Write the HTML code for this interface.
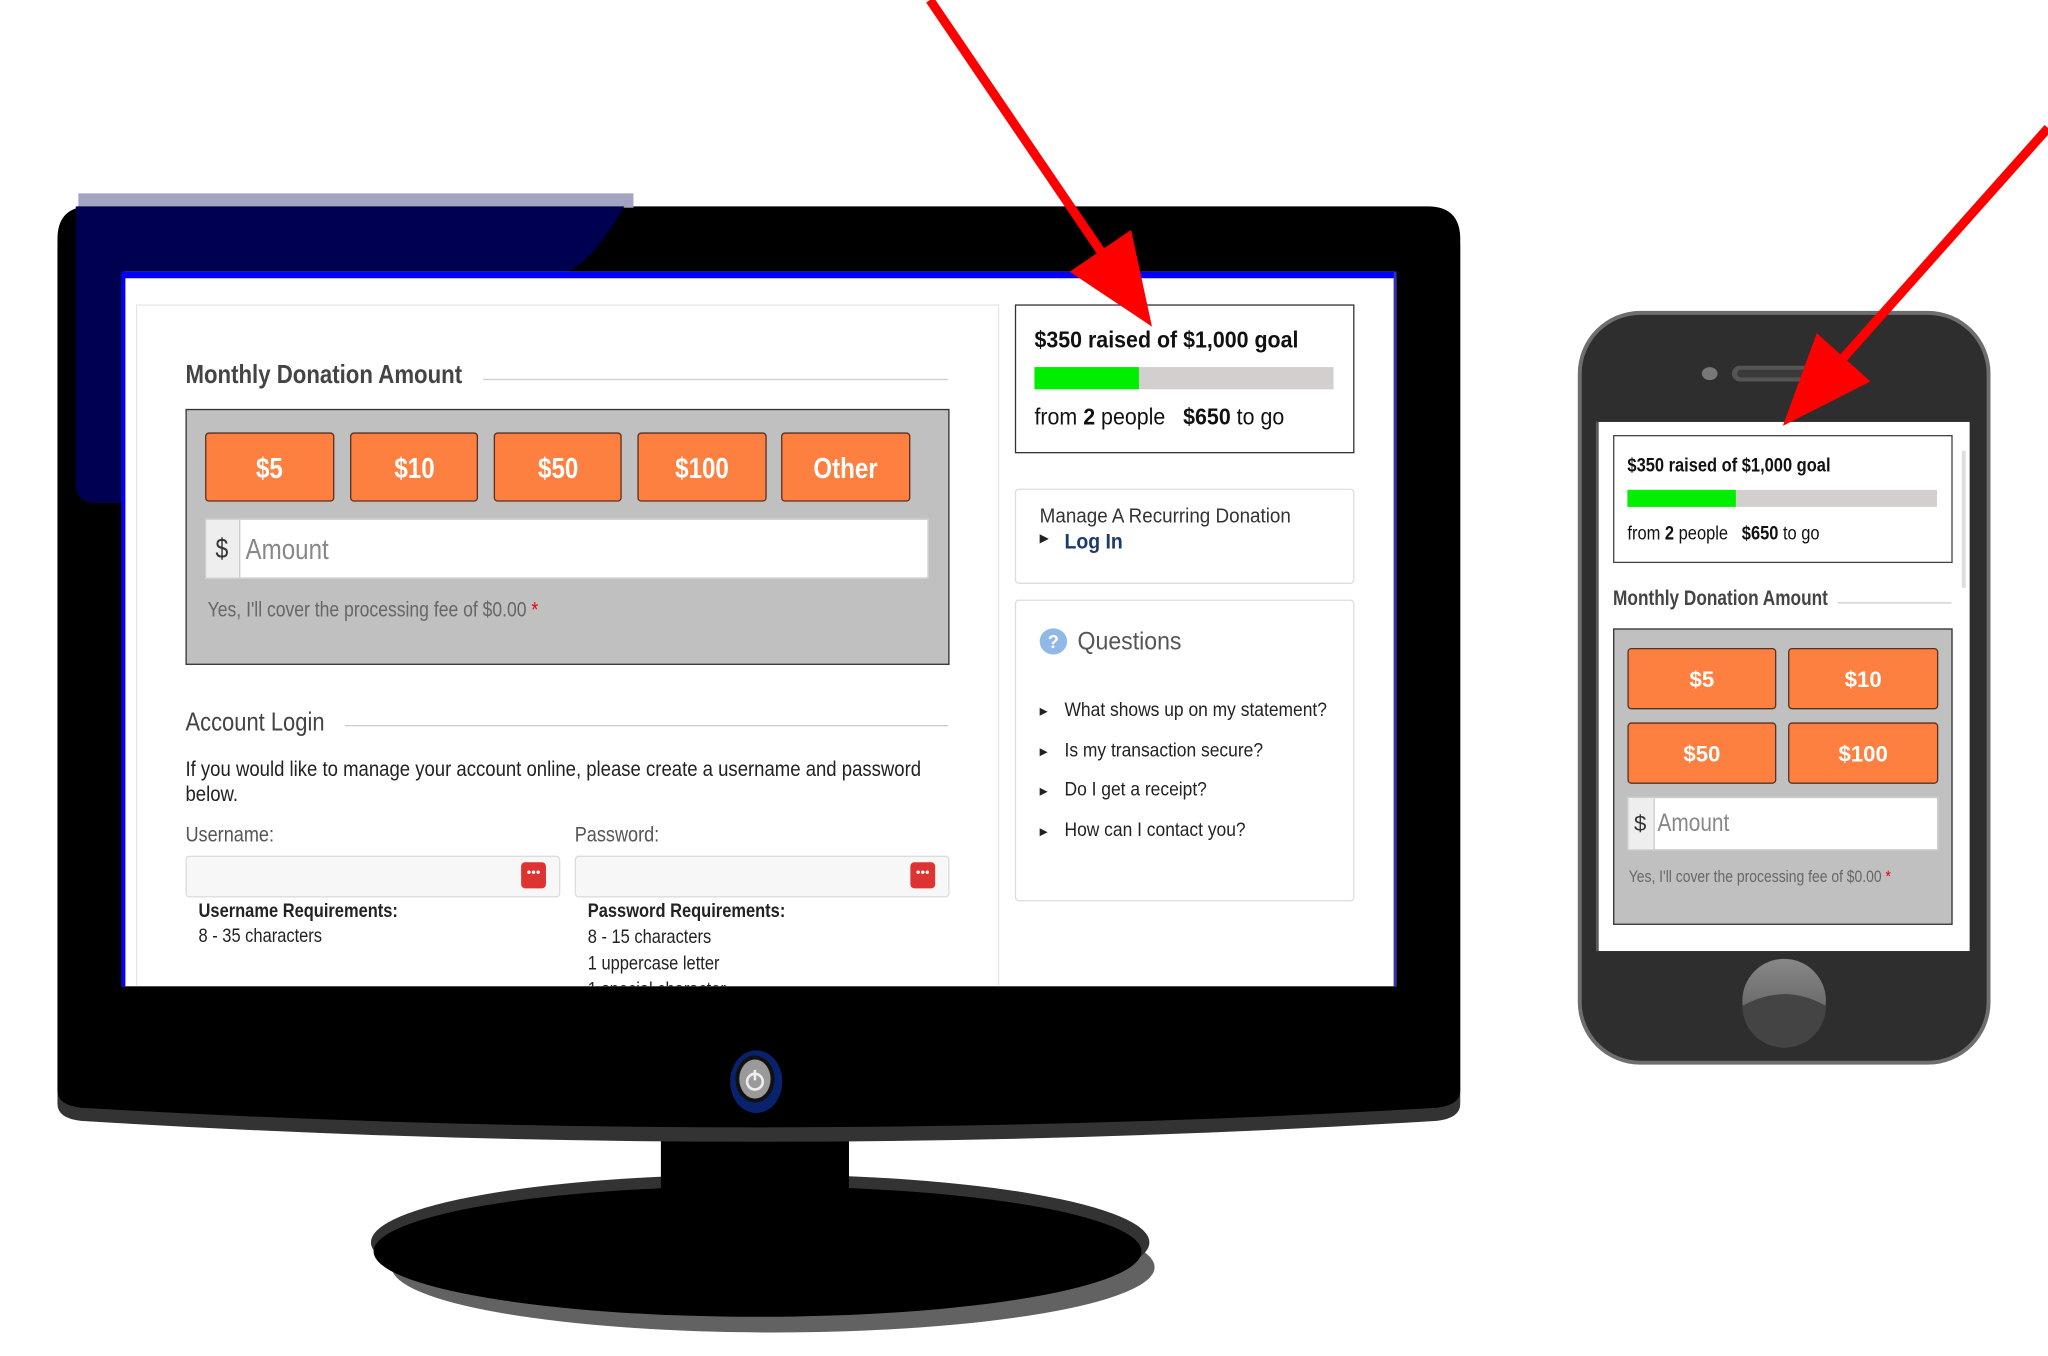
<!DOCTYPE html>
<html><head><meta charset="utf-8"><style>
html,body{margin:0;padding:0;background:#fff;overflow:hidden;width:2048px;height:1356px}
#w{position:absolute;left:0;top:0;width:1568px;height:1038px;transform:scale(1.30612,1.30636);transform-origin:0 0;font-family:"Liberation Sans",sans-serif}
.a{position:absolute;white-space:nowrap}
.c{display:inline-block;transform:scaleX(.84);transform-origin:0 0}
.btn{position:absolute;background:#fe8040;border:1px solid #5a3020;border-radius:3px;color:#fff;font-weight:bold;text-align:center;box-sizing:border-box}
</style></head><body><div id="w">
<svg width="1568" height="1038" style="position:absolute;left:0;top:0">
<ellipse cx="592" cy="970" rx="292" ry="50" fill="#626262"/>
<ellipse cx="582" cy="951" rx="298" ry="52" fill="#333"/>
<ellipse cx="580" cy="958" rx="294" ry="50" fill="#000"/>
<rect x="506" y="860" width="144" height="100" fill="#000"/>
<path d="M44,190 Q44,163 70,163 L1093,163 Q1118,163 1118,190 L1118,845 Q1118,856 1100,858 Q580,890 62,858 Q44,856 44,845 Z" fill="#333"/>
<path d="M44,183 Q44,158 69,158 L1093,158 Q1118,158 1118,183 L1118,835 Q1118,846 1100,848 Q580,878 62,848 Q44,846 44,835 Z" fill="#000"/>
<rect x="60" y="148" width="425" height="11" fill="#a3a3c2"/>
<path d="M58,158 L478,158 Q455,198 435,208 L93,208 L93,385 L72,385 Q58,385 58,370 Z" fill="#000050"/>
<ellipse cx="579" cy="828" rx="20" ry="24" fill="#0a2a8a" opacity=".8"/>
<ellipse cx="578" cy="826" rx="15" ry="18" fill="#111"/>
<ellipse cx="578" cy="826" rx="12" ry="15" fill="#9a9a9a"/>
<circle cx="578" cy="828" r="6" fill="none" stroke="#eee" stroke-width="2"/>
<line x1="578" y1="819" x2="578" y2="827" stroke="#eee" stroke-width="2"/>
<rect x="93" y="208" width="976" height="547" fill="#fff"/>
<rect x="93" y="208" width="976" height="5" fill="#0000ff"/>
<rect x="93" y="208" width="3" height="547" fill="#0000ff"/>
<rect x="1067" y="208" width="2" height="547" fill="#3030c0"/>
<rect x="1208" y="238" width="316" height="577" rx="48" fill="#6e6e6e"/>
<rect x="1211" y="241" width="310" height="571" rx="45" fill="#2e2e2e"/>
<ellipse cx="1309" cy="286" rx="6" ry="5" fill="#777"/>
<rect x="1326" y="280" width="94" height="12" rx="6" fill="#555"/>
<rect x="1330" y="283" width="86" height="6" rx="3" fill="#3a3a3a"/>
<rect x="1222" y="323" width="286" height="405" fill="#fff"/>
<rect x="1222" y="323" width="2" height="405" fill="#555"/>
<rect x="1502" y="345" width="3" height="105" fill="#ddd"/>
<defs><linearGradient id="hb" x1="0" y1="0" x2="0" y2="1"><stop offset="0" stop-color="#888"/><stop offset="1" stop-color="#555"/></linearGradient></defs>
<circle cx="1366" cy="766" r="32" fill="url(#hb)"/>
<path d="M1334,770 Q1366,752 1398,770 A32,32 0 0 1 1334,770 Z" fill="#444"/>
</svg>

<div class="a" style="left:104px;top:233px;width:661px;height:530px;border:1px solid #e4e4e4;border-bottom:none;box-sizing:border-box;clip-path:inset(0 0 8px 0)"></div>
<div class="a" style="left:142px;top:276px;font-size:20px;font-weight:bold;color:#444"><span class="c" style="transform:scaleX(.85)">Monthly Donation Amount</span></div>
<div class="a" style="left:370px;top:290px;width:356px;height:1px;background:#ccc"></div>
<div class="a" style="left:142px;top:313px;width:585px;height:196px;background:#c0c0c0;border:1px solid #333;box-sizing:border-box"></div>
<div class="btn" style="left:157px;top:331px;width:99px;height:53px;line-height:53px;font-size:22px"><span class="c" style="transform-origin:50% 0">$5</span></div>
<div class="btn" style="left:268px;top:331px;width:98px;height:53px;line-height:53px;font-size:22px"><span class="c" style="transform-origin:50% 0">$10</span></div>
<div class="btn" style="left:378px;top:331px;width:98px;height:53px;line-height:53px;font-size:22px"><span class="c" style="transform-origin:50% 0">$50</span></div>
<div class="btn" style="left:488px;top:331px;width:99px;height:53px;line-height:53px;font-size:22px"><span class="c" style="transform-origin:50% 0">$100</span></div>
<div class="btn" style="left:598px;top:331px;width:99px;height:53px;line-height:53px;font-size:22px"><span class="c" style="transform-origin:50% 0">Other</span></div>
<div class="a" style="left:157px;top:397px;width:554px;height:46px;background:#fff;border:1px solid #ccc;box-sizing:border-box"></div>
<div class="a" style="left:158px;top:398px;width:25px;height:44px;background:#eee;border-right:1px solid #ccc"></div>
<div class="a" style="left:165px;top:409px;font-size:21px;color:#333"><span class="c">$</span></div>
<div class="a" style="left:188px;top:408px;font-size:22px;color:#888"><span class="c">Amount</span></div>
<div class="a" style="left:159px;top:459px;font-size:16px;color:#666"><span class="c">Yes, I'll cover the processing fee of $0.00 <span style="color:#e00">*</span></span></div>
<div class="a" style="left:142px;top:542px;font-size:20px;color:#444"><span class="c">Account Login</span></div>
<div class="a" style="left:264px;top:555px;width:462px;height:1px;background:#ccc"></div>
<div class="a" style="left:142px;top:580px;font-size:16.5px;color:#222;line-height:19px"><span class="c" style="transform:scaleX(.86)">If you would like to manage your account online, please create a username and password<br>below.</span></div>
<div class="a" style="left:142px;top:630px;font-size:16.5px;color:#555"><span class="c">Username:</span></div>
<div class="a" style="left:440px;top:630px;font-size:16.5px;color:#555"><span class="c">Password:</span></div>
<div class="a" style="left:142px;top:655px;width:287px;height:32px;background:#f7f7f7;border:1px solid #ddd;border-radius:3px;box-sizing:border-box"></div>
<div class="a" style="left:440px;top:655px;width:287px;height:32px;background:#f7f7f7;border:1px solid #ddd;border-radius:3px;box-sizing:border-box"></div>
<div class="a" style="left:399px;top:660px;width:19px;height:20px;background:#d33;border-radius:3px;color:#fff;font-size:10px;line-height:17px;text-align:center">•••</div>
<div class="a" style="left:697px;top:660px;width:19px;height:20px;background:#d33;border-radius:3px;color:#fff;font-size:10px;line-height:17px;text-align:center">•••</div>
<div class="a" style="left:152px;top:689px;font-size:15px;font-weight:bold;color:#222"><span class="c">Username Requirements:</span></div>
<div class="a" style="left:152px;top:708px;font-size:15px;color:#222"><span class="c">8 - 35 characters</span></div>
<div class="a" style="left:450px;top:689px;font-size:15px;font-weight:bold;color:#222"><span class="c">Password Requirements:</span></div>
<div class="a" style="left:450px;top:708px;font-size:15px;color:#222;line-height:20px;height:47px;overflow:hidden"><span class="c">8 - 15 characters<br>1 uppercase letter<br>1 special character</span></div>

<div class="a" style="left:777px;top:233px;width:260px;height:114px;border:1px solid #333;box-sizing:border-box"></div>
<div class="a" style="left:792px;top:250px;font-size:18px;font-weight:bold;color:#111"><span class="c" style="transform:scaleX(.91)">$350 raised of $1,000 goal</span></div>
<div class="a" style="left:792px;top:281px;width:229px;height:17px;background:#d3cfcf"></div>
<div class="a" style="left:792px;top:281px;width:80px;height:17px;background:#00ee00"></div>
<div class="a" style="left:792px;top:309px;font-size:18px;color:#111"><span class="c" style="transform:scaleX(.91)">from <b>2</b> people &nbsp;&nbsp;<b>$650</b> to go</span></div>
<div class="a" style="left:777px;top:374px;width:260px;height:73px;border:1px solid #ddd;border-radius:3px;box-sizing:border-box"></div>
<div class="a" style="left:796px;top:387px;font-size:15.5px;color:#333"><span class="c" style="transform:scaleX(.93)">Manage A Recurring Donation</span></div>
<div class="a" style="left:796px;top:407px;font-size:9px;color:#222">▶</div>
<div class="a" style="left:815px;top:407px;font-size:16px;font-weight:bold;color:#1a3a70"><span class="c" style="transform:scaleX(.93)">Log In</span></div>
<div class="a" style="left:777px;top:459px;width:260px;height:231px;border:1px solid #ddd;border-radius:3px;box-sizing:border-box"></div>
<div class="a" style="left:796px;top:481px;width:21px;height:20px;border-radius:50%;background:#90b8e8;color:#fff;font-size:14px;font-weight:bold;text-align:center;line-height:20px">?</div>
<div class="a" style="left:825px;top:481px;font-size:19px;color:#555"><span class="c" style="transform:scaleX(.93)">Questions</span></div>
<div class="a" style="left:796px;top:530px;font-size:8px;color:#222;line-height:30.6px">▶<br>▶<br>▶<br>▶</div>
<div class="a" style="left:815px;top:529px;font-size:14.5px;color:#222;line-height:30.6px"><span class="c" style="transform:scaleX(.92)">What shows up on my statement?<br>Is my transaction secure?<br>Do I get a receipt?<br>How can I contact you?</span></div>
<div class="a" style="left:764px;top:236px;width:1px;height:519px;background:#e6e6e6"></div>

<div class="a" style="left:1235px;top:333px;width:260px;height:98px;border:1px solid #444;box-sizing:border-box"></div>
<div class="a" style="left:1246px;top:348px;font-size:15px;font-weight:bold;color:#111"><span class="c">$350 raised of $1,000 goal</span></div>
<div class="a" style="left:1246px;top:375px;width:237px;height:13px;background:#d3cfcf"></div>
<div class="a" style="left:1246px;top:375px;width:83px;height:13px;background:#00ee00"></div>
<div class="a" style="left:1246px;top:400px;font-size:15px;color:#111"><span class="c">from <b>2</b> people &nbsp;&nbsp;<b>$650</b> to go</span></div>
<div class="a" style="left:1235px;top:449px;font-size:16.5px;font-weight:bold;color:#444"><span class="c" style="transform:scaleX(.8)">Monthly Donation Amount</span></div>
<div class="a" style="left:1407px;top:461px;width:87px;height:1px;background:#ccc"></div>
<div class="a" style="left:1235px;top:481px;width:260px;height:227px;background:#c0c0c0;border:1px solid #333;box-sizing:border-box"></div>
<div class="btn" style="left:1246px;top:496px;width:114px;height:47px;line-height:47px;font-size:17px">$5</div>
<div class="btn" style="left:1369px;top:496px;width:115px;height:47px;line-height:47px;font-size:17px">$10</div>
<div class="btn" style="left:1246px;top:553px;width:114px;height:47px;line-height:47px;font-size:17px">$50</div>
<div class="btn" style="left:1369px;top:553px;width:115px;height:47px;line-height:47px;font-size:17px">$100</div>
<div class="a" style="left:1246px;top:610px;width:238px;height:41px;background:#fff;border:1px solid #ccc;box-sizing:border-box"></div>
<div class="a" style="left:1247px;top:611px;width:19px;height:39px;background:#eee;border-right:1px solid #ccc"></div>
<div class="a" style="left:1251px;top:621px;font-size:17px;color:#333">$</div>
<div class="a" style="left:1269px;top:620px;font-size:19px;color:#888"><span class="c">Amount</span></div>
<div class="a" style="left:1247px;top:663px;font-size:13px;color:#666"><span class="c" style="transform:scaleX(.82)">Yes, I'll cover the processing fee of $0.00 <span style="color:#e00">*</span></span></div>

<svg width="1568" height="1038" style="position:absolute;left:0;top:0">
<line x1="712" y1="0" x2="850" y2="203" stroke="#ff0000" stroke-width="7"/>
<polygon points="882,250 866,176 819,208" fill="#ff0000"/>
<line x1="1568" y1="98" x2="1405" y2="281" stroke="#ff0000" stroke-width="7"/>
<polygon points="1365,326 1432,292 1391,255" fill="#ff0000"/>
</svg>
</div></body></html>
